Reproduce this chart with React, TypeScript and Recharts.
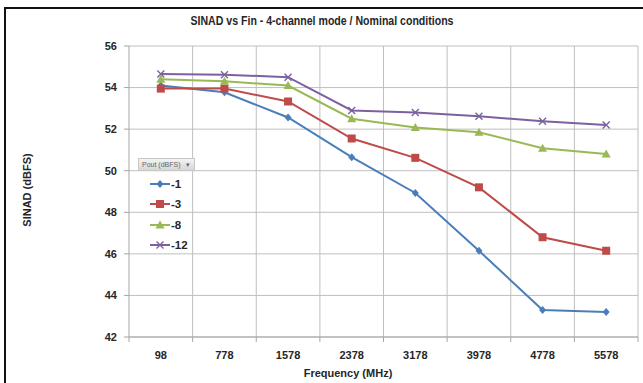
import React from "react";
import { LineChart, Line, XAxis, YAxis, CartesianGrid, Legend } from "recharts";

const frequencies = ["98", "778", "1578", "2378", "3178", "3978", "4778", "5578"];
const pout1 = [54.1, 53.77, 52.56, 50.65, 48.93, 46.15, 43.3, 43.2];
const pout3 = [53.95, 53.95, 53.33, 51.55, 50.62, 49.2, 46.8, 46.15];
const pout8 = [54.4, 54.3, 54.1, 52.5, 52.08, 51.85, 51.08, 50.8];
const pout12 = [54.65, 54.62, 54.5, 52.9, 52.8, 52.62, 52.38, 52.2];
const yTicks = [42, 44, 46, 48, 50, 52, 54, 56];

const data = frequencies.map((f, i) => ({
  f,
  p1: pout1[i],
  p3: pout3[i],
  p8: pout8[i],
  p12: pout12[i],
}));

const FONT = "'Liberation Sans', Arial, sans-serif";
const TXT = "#262626";
const BLUE = "#4a7ebb";
const RED = "#be4b48";
const GREEN = "#98b954";
const PURPLE = "#7d60a0";

const Marker = ({ kind, cx, cy, color }: any) => {
  if (cx == null || cy == null) return null;
  if (kind === "diamond")
    return <path d={`M${cx},${cy - 4}L${cx + 3.5},${cy}L${cx},${cy + 4}L${cx - 3.5},${cy}Z`} fill={color} />;
  if (kind === "square") return <rect x={cx - 4} y={cy - 4} width={8} height={8} fill={color} />;
  if (kind === "triangle")
    return <path d={`M${cx},${cy - 4.5}L${cx + 4.5},${cy + 3.5}L${cx - 4.5},${cy + 3.5}Z`} fill={color} />;
  return (
    <path
      d={`M${cx - 3.5},${cy - 3.5}L${cx + 3.5},${cy + 3.5}M${cx - 3.5},${cy + 3.5}L${cx + 3.5},${cy - 3.5}`}
      stroke={color}
      strokeWidth={1.4}
      fill="none"
    />
  );
};

const mkDot = (kind: string, color: string) => (props: any) => (
  <Marker key={`${kind}-${props.index}`} kind={kind} cx={props.cx} cy={props.cy} color={color} />
);

const XTick = (props: any) => {
  const { x, y, payload, index } = props;
  const half = payload && payload.offset ? payload.offset : 36;
  const axisY = y - 8;
  return (
    <g>
      <line x1={x - half} x2={x - half} y1={axisY} y2={axisY + 5} stroke="#a6a6a6" />
      {index === frequencies.length - 1 && (
        <line x1={x + half} x2={x + half} y1={axisY} y2={axisY + 5} stroke="#a6a6a6" />
      )}
      <text x={x} y={y + 14} textAnchor="middle" fontFamily={FONT} fontWeight="bold" fontSize={11} fill={TXT}>
        {payload.value}
      </text>
    </g>
  );
};

const series = [
  { key: "p1", name: "-1", color: BLUE, kind: "diamond" },
  { key: "p3", name: "-3", color: RED, kind: "square" },
  { key: "p8", name: "-8", color: GREEN, kind: "triangle" },
  { key: "p12", name: "-12", color: PURPLE, kind: "x" },
];

const LegendContent = () => (
  <div style={{ fontFamily: FONT }}>
    <div
      style={{
        width: 57,
        height: 13,
        background: "linear-gradient(#f4f4f4, #d6d6d6)",
        border: "1px solid #c8c8c8",
        fontSize: 7,
        color: "#666",
        lineHeight: "12px",
        paddingLeft: 3,
        boxSizing: "border-box",
        whiteSpace: "nowrap",
      }}
    >
      Pout (dBFS) &nbsp;&nbsp;▾
    </div>
    <div style={{ height: 3 }} />
    {series.map((s) => (
      <div key={s.key} style={{ display: "flex", alignItems: "center", height: 20.3, marginLeft: 11 }}>
        <svg width={22} height={12}>
          <line x1={1} x2={21} y1={6} y2={6} stroke={s.color} strokeWidth={2} />
          <Marker kind={s.kind} cx={11} cy={6} color={s.color} />
        </svg>
        <span style={{ fontSize: 11.5, fontWeight: "bold", color: TXT, marginLeft: 0 }}>{s.name}</span>
      </div>
    ))}
  </div>
);

export default function App() {
  return (
    <div style={{ position: "absolute", left: 0, top: 0, width: 643, height: 383, background: "#fff", overflow: "hidden" }}>
      <div
        style={{
          position: "absolute",
          left: 4,
          top: 7,
          width: 660,
          height: 400,
          borderTop: "2px solid #111",
          borderLeft: "2px solid #111",
        }}
      />
      <div style={{ position: "absolute", left: 0, top: 0 }}>
        <LineChart width={643} height={383} data={data} margin={{ top: 46, right: 5, bottom: 0, left: 0 }}>
          <CartesianGrid
            stroke="#bfbfbf"
            verticalCoordinatesGenerator={({ offset }: any) =>
              frequencies.map((_, i) => offset.left + ((i + 1) * offset.width) / frequencies.length)
            }
          />
          <XAxis
            dataKey="f"
            scale="band"
            height={46}
            stroke="#a6a6a6"
            tickLine={false}
            tick={<XTick />}
            interval={0}
          />
          <YAxis
            width={59}
            domain={[42, 56]}
            ticks={yTicks}
            interval={0}
            stroke="#a6a6a6"
            tickSize={5}
            tickMargin={7}
            tick={{ fontFamily: FONT, fontWeight: "bold", fontSize: 11, fill: TXT }}
          />
          <Legend
            layout="vertical"
            verticalAlign="top"
            align="left"
            wrapperStyle={{ left: 138, top: 158, width: 70 }}
            content={<LegendContent />}
          />
          {series.map((s) => (
            <Line
              key={s.key}
              dataKey={s.key}
              name={s.name}
              stroke={s.color}
              strokeWidth={2}
              dot={mkDot(s.kind, s.color)}
              activeDot={false}
              isAnimationActive={false}
            />
          ))}
        </LineChart>
      </div>
      <svg width={643} height={383} style={{ position: "absolute", left: 0, top: 0, pointerEvents: "none" }}>
        <text x={322} y={25} textAnchor="middle" fontFamily={FONT} fontWeight="bold" fontSize={12.5} fill={TXT} textLength={263} lengthAdjust="spacingAndGlyphs">
          SINAD vs Fin - 4-channel mode / Nominal conditions
        </text>
        <text x={31} y={190} transform="rotate(-90 31 190)" textAnchor="middle" fontFamily={FONT} fontWeight="bold" fontSize={11} fill={TXT}>
          SINAD (dBFS)
        </text>
        <text x={348} y={377} textAnchor="middle" fontFamily={FONT} fontWeight="bold" fontSize={11} fill={TXT}>
          Frequency (MHz)
        </text>
      </svg>
    </div>
  );
}
